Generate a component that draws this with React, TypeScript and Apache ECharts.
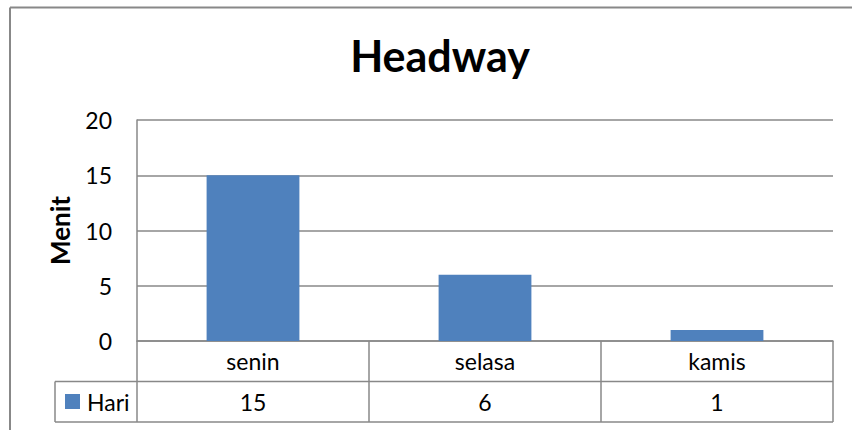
import React, { useEffect, useRef } from "react";
import * as echarts from "echarts";

const categories = ["senin", "selasa", "kamis"];
const values = [15, 6, 1];
const seriesName = "Hari";
const chartTitle = "Headway";
const yAxisTitle = "Menit";
const yMin = 0;
const yMax = 20;
const yInterval = 5;

const FONT = "Lato, 'Open Sans', sans-serif";
const LINE = "#888888";
const BAR = "#4F81BD";

const GRID_LEFT = 137;
const GRID_TOP = 120;
const GRID_W = 696;
const GRID_H = 221;
const ROW_H = 40.5;
const LEGEND_CELL_LEFT = 55;

export default function App() {
  const ref = useRef<HTMLDivElement>(null);
  useEffect(() => {
    const chart = echarts.init(ref.current!, null, { renderer: "svg" });
    const gridBottom = GRID_TOP + GRID_H;
    const gridRight = GRID_LEFT + GRID_W;
    const row1 = gridBottom + ROW_H;
    const row2 = row1 + ROW_H;
    chart.setOption({
      animation: false,
      backgroundColor: "#ffffff",
      title: {
        text: chartTitle,
        left: 435,
        textAlign: "center",
        top: 29,
        textStyle: { fontFamily: FONT, fontWeight: "bold", fontSize: 43, color: "#000" },
      },
      legend: {
        data: [seriesName],
        left: 65,
        top: row1 + 8,
        padding: 0,
        itemWidth: 15,
        itemHeight: 15,
        icon: "rect",
        textStyle: { fontFamily: FONT, fontSize: 23, color: "#000", lineHeight: 24, padding: [0, 0, 0, 2] },
      },
      grid: { left: GRID_LEFT, top: GRID_TOP, width: GRID_W, height: GRID_H, containLabel: false },
      xAxis: {
        type: "category",
        data: categories,
        axisLine: { show: true, lineStyle: { color: LINE, width: 1.5 } },
        axisTick: { show: true, interval: 0, length: ROW_H * 2, lineStyle: { color: LINE, width: 1.5 } },
        axisLabel: {
          interval: 0,
          margin: 0,
          formatter: (v: string, i: number) => `{c|${v}}\n{c|${values[i]}}`,
          rich: {
            c: { fontFamily: FONT, fontSize: 23, color: "#000", lineHeight: ROW_H, height: ROW_H },
          },
        },
      },
      yAxis: {
        type: "value",
        min: yMin,
        max: yMax,
        interval: yInterval,
        name: yAxisTitle,
        nameLocation: "middle",
        nameRotate: 90,
        nameGap: 64,
        nameTextStyle: { fontFamily: FONT, fontWeight: "bold", fontSize: 26, color: "#000" },
        axisLine: { show: true, lineStyle: { color: LINE, width: 1.5 } },
        axisTick: { show: false },
        splitLine: { show: true, lineStyle: { color: LINE, width: 1.5 } },
        axisLabel: { fontFamily: FONT, fontSize: 23, color: "#000", margin: 25 },
      },
      series: [
        {
          name: seriesName,
          type: "bar",
          data: values,
          barWidth: "40%",
          itemStyle: { color: BAR },
        },
      ],
      graphic: [
        { type: "line", shape: { x1: 10, y1: 7.5, x2: 852, y2: 7.5 }, style: { stroke: LINE, lineWidth: 2 } },
        { type: "line", shape: { x1: 10, y1: 7.5, x2: 10, y2: 430 }, style: { stroke: LINE, lineWidth: 2 } },
        { type: "line", shape: { x1: LEGEND_CELL_LEFT, y1: row1, x2: gridRight, y2: row1 }, style: { stroke: LINE, lineWidth: 1.5 } },
        { type: "line", shape: { x1: LEGEND_CELL_LEFT, y1: row2, x2: gridRight, y2: row2 }, style: { stroke: LINE, lineWidth: 1.5 } },
        { type: "line", shape: { x1: LEGEND_CELL_LEFT, y1: row1, x2: LEGEND_CELL_LEFT, y2: row2 }, style: { stroke: LINE, lineWidth: 1.5 } },
      ],
    });
    return () => chart.dispose();
  }, []);
  return (
    <div
      ref={ref}
      style={{ position: "fixed", left: 0, top: 0, width: 852, height: 430, background: "#fff" }}
    />
  );
}
